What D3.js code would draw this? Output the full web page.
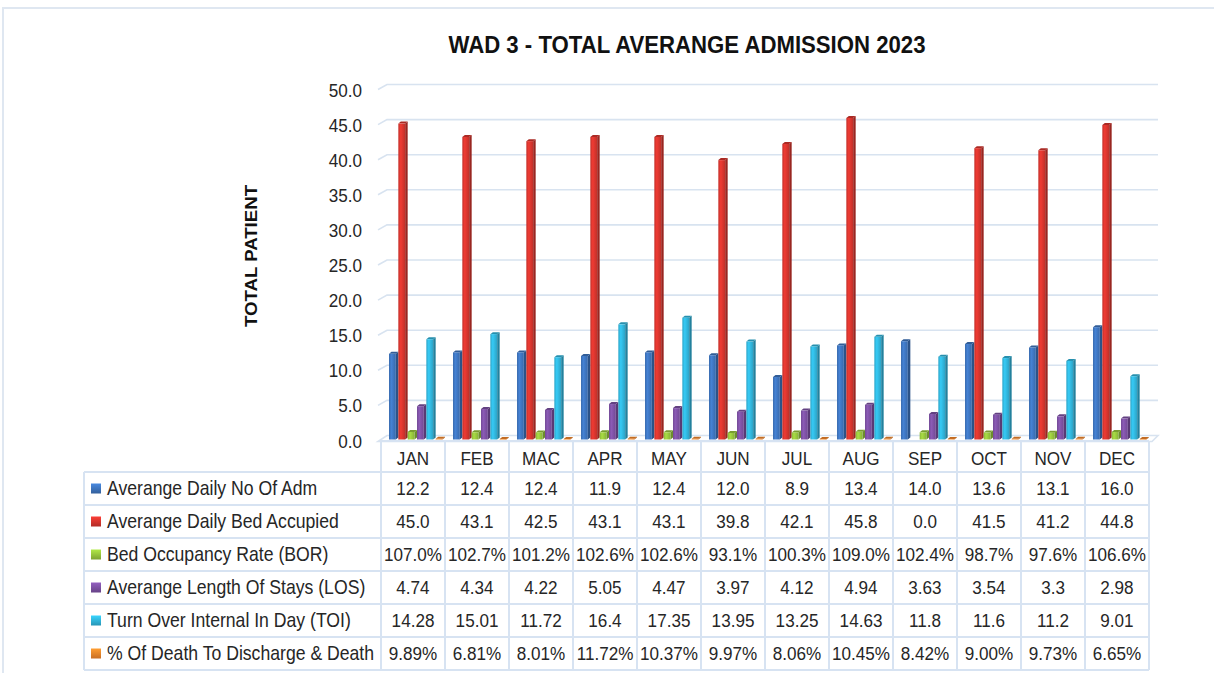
<!DOCTYPE html>
<meta charset="utf-8">
<style>
body { margin: 0; background: #fff; }
svg text { font-family: "Liberation Sans", Arial, Helvetica, sans-serif; fill: #262626; }
.tick-label { font-size: 19px; }
.cell { font-size: 19px; }
.legend-label { font-size: 19.6px; }
.title { font-size: 23.5px; font-weight: bold; fill: #111; }
.ytitle { font-size: 16.5px; font-weight: bold; fill: #111; }
</style>
<svg width="1214" height="673"></svg>
<script src="https://d3js.org/d3.v7.min.js"></script>
<script>

// months on the category axis
var months = ["JAN", "FEB", "MAC", "APR", "MAY", "JUN", "JUL", "AUG", "SEP", "OCT", "NOV", "DEC"];

var seriesNames = [
  "Averange Daily No Of Adm",
  "Averange Daily Bed Accupied",
  "Bed Occupancy Rate (BOR)",
  "Averange Length Of Stays (LOS)",
  "Turn Over Internal In Day (TOI)",
  "% Of Death To Discharge & Death"
];

var dailyAdm   = [12.2, 12.4, 12.4, 11.9, 12.4, 12.0, 8.9, 13.4, 14.0, 13.6, 13.1, 16.0];
var bedOccup   = [45.0, 43.1, 42.5, 43.1, 43.1, 39.8, 42.1, 45.8, 0.0, 41.5, 41.2, 44.8];
var bor        = [1.070, 1.027, 1.012, 1.026, 1.026, 0.931, 1.003, 1.090, 1.024, 0.987, 0.976, 1.066];
var los        = [4.74, 4.34, 4.22, 5.05, 4.47, 3.97, 4.12, 4.94, 3.63, 3.54, 3.3, 2.98];
var toi        = [14.28, 15.01, 11.72, 16.4, 17.35, 13.95, 13.25, 14.63, 11.8, 11.6, 11.2, 9.01];
var deathRate  = [0.0989, 0.0681, 0.0801, 0.1172, 0.1037, 0.0997, 0.0806, 0.1045, 0.0842, 0.0900, 0.0973, 0.0665];

var yTicks = [0, 5, 10, 15, 20, 25, 30, 35, 40, 45, 50];

var seriesColors = ["#3d73bb", "#d3342d", "#95c33c", "#7b50a1", "#30b2d8", "#f0842a"];

var fmt1 = d3.format(".1f"), pct1 = d3.format(".1%"), pct2 = d3.format(".2%");
var series = [
  { values: dailyAdm,  fmt: fmt1 },
  { values: bedOccup,  fmt: fmt1 },
  { values: bor,       fmt: pct1 },
  { values: los,       fmt: String },
  { values: toi,       fmt: String },
  { values: deathRate, fmt: pct2 }
];

var svg = d3.select("svg");
var defs = svg.append("defs");

var plotL = 381, plotR = 1149,
    dx = 6, dy = -4,
    tableL = 84, headTop = 441, rowTop = 472, rowH = 33,
    narrow = 0.9;   // the source font is a condensed sans

// place a text with a horizontal squeeze
function at(xx, yy) { return "translate(" + xx + "," + yy + ") scale(" + narrow + ",1)"; }

var x = d3.scaleBand().domain(months).range([plotL, plotR]);
var xs = d3.scaleBand().domain(d3.range(series.length)).range([8, 64]);
var y = d3.scaleLinear().domain([0, 50]).range([439.5, 88.5]);

// outer frame
svg.append("path")
    .attr("d", "M3,673V8H1214")
    .attr("fill", "none")
    .attr("stroke", "#dfe7f1")
    .attr("stroke-width", 2);

// title
svg.append("text")
    .attr("class", "title")
    .attr("x", 687).attr("y", 53)
    .attr("text-anchor", "middle")
    .attr("textLength", 477)
    .attr("lengthAdjust", "spacingAndGlyphs")
    .text("WAD 3 - TOTAL AVERANGE ADMISSION 2023");

svg.append("text")
    .attr("class", "ytitle")
    .attr("transform", "translate(257,256) rotate(-90)")
    .attr("text-anchor", "middle")
    .attr("textLength", 142)
    .attr("lengthAdjust", "spacingAndGlyphs")
    .text("TOTAL PATIENT");

// gridlines on side wall + back wall
var grid = svg.append("g").attr("fill", "none").attr("stroke", "#d8e3f0").attr("stroke-width", 1.6);
grid.selectAll("path")
  .data(yTicks.filter(function(d) { return d > 0; }))
  .enter().append("path")
    .attr("d", function(d) {
      return "M" + (plotL - 3) + "," + (y(d) + 1) + "L" + (plotL + dx) + "," + (y(d) + dy) +
             "H" + (plotR + dx + 3);
    });

// floor
svg.append("path")
    .attr("d", "M" + (plotL - 3) + "," + (y(0) + 2) + "L" + (plotL + dx) + "," + (y(0) + dy) +
               "H" + (plotR + dx + 3) + "L" + (plotR + 3) + "," + (y(0) + 2) + "Z")
    .attr("fill", "#fff")
    .attr("stroke", "#d8e3f0")
    .attr("stroke-width", 1.6);

svg.append("g").selectAll("text")
  .data(yTicks)
  .enter().append("text")
    .attr("class", "tick-label")
    .attr("transform", function(d) { return at(362, y(d) + 3); })
    .attr("text-anchor", "end")
    .attr("dominant-baseline", "middle")
    .text(function(d) { return d.toFixed(1); });

// gradients
seriesColors.forEach(function(c, i) {
  var g = defs.append("linearGradient").attr("id", "front" + i)
      .attr("x1", 0).attr("x2", 1).attr("y1", 0).attr("y2", 0);
  g.append("stop").attr("offset", 0).attr("stop-color", d3.color(c).darker(0.2));
  g.append("stop").attr("offset", 0.35).attr("stop-color", d3.color(c).brighter(0.35));
  g.append("stop").attr("offset", 1).attr("stop-color", d3.color(c).darker(0.25));
  var s = defs.append("linearGradient").attr("id", "sw" + i)
      .attr("x1", 0).attr("x2", 0).attr("y1", 0).attr("y2", 1);
  s.append("stop").attr("offset", 0).attr("stop-color", d3.color(c).brighter(0.5));
  s.append("stop").attr("offset", 1).attr("stop-color", d3.color(c).darker(0.5));
});

// bars
var side = 2.5, rise = 2, barW = xs.bandwidth() - side;
var cells = [];
months.forEach(function(m, mi) {
  series.forEach(function(s, si) {
    cells.push({ m: m, si: si, v: s.values[mi] });
  });
});
cells = cells.filter(function(d) { return d.v > 0; });

var bar = svg.append("g").selectAll("g")
  .data(cells)
  .enter().append("g")
    .attr("transform", function(d) { return "translate(" + (x(d.m) + xs(d.si)) + ",0)"; });

bar.append("path")  // right side face
    .attr("d", function(d) {
      var t = y(d.v), b = y(0);
      return "M" + barW + "," + t + "l" + side + "," + (-rise) + "V" + (b - rise) + "L" + barW + "," + b + "Z";
    })
    .attr("fill", function(d) { return d3.color(seriesColors[d.si]).darker(0.9); });

bar.append("path")  // top face
    .attr("d", function(d) {
      var t = y(d.v);
      return "M0," + t + "l" + side + "," + (-rise) + "h" + barW + "l" + (-side) + "," + rise + "Z";
    })
    .attr("fill", function(d) { return d3.color(seriesColors[d.si]).darker(0.6); });

bar.append("rect")
    .attr("x", 0)
    .attr("y", function(d) { return y(d.v); })
    .attr("width", barW)
    .attr("height", function(d) { return Math.max(0.6, y(0) - y(d.v)); })
    .attr("fill", function(d) { return "url(#front" + d.si + ")"; });

// data table
var tbl = svg.append("g");
var lines = tbl.append("g").attr("stroke", "#d7e3f2").attr("stroke-width", 2).attr("fill", "none");
var tableB = rowTop + rowH * series.length;

lines.append("path").attr("d", "M" + plotL + "," + headTop + "H" + plotR);
d3.range(series.length + 1).forEach(function(i) {
  lines.append("path").attr("d", "M" + tableL + "," + (rowTop + i * rowH) + "H" + plotR);
});
lines.append("path").attr("d", "M" + tableL + "," + rowTop + "V" + tableB);
months.concat([null]).forEach(function(m, i) {
  var xx = plotL + i * x.bandwidth();
  lines.append("path").attr("d", "M" + xx + "," + headTop + "V" + tableB);
});

tbl.selectAll("text.month")
  .data(months)
  .enter().append("text")
    .attr("class", "cell month")
    .attr("transform", function(d) { return at(x(d) + x.bandwidth() / 2, (headTop + rowTop) / 2 + 3); })
    .attr("text-anchor", "middle")
    .attr("dominant-baseline", "middle")
    .text(function(d) { return d; });

series.forEach(function(s, si) {
  var cy = rowTop + si * rowH + rowH / 2 + 1;
  tbl.append("rect")
      .attr("x", 91).attr("y", cy - 6)
      .attr("width", 10).attr("height", 10)
      .attr("fill", "url(#sw" + si + ")");
  tbl.append("text")
      .attr("class", "legend-label")
      .attr("transform", at(107, cy))
      .attr("dominant-baseline", "middle")
      .text(seriesNames[si]);
  tbl.selectAll(null)
    .data(s.values)
    .enter().append("text")
      .attr("class", "cell")
      .attr("transform", function(d, i) { return at(x(months[i]) + x.bandwidth() / 2, cy); })
      .attr("text-anchor", "middle")
      .attr("dominant-baseline", "middle")
      .text(function(d) { return s.fmt(d); });
});

</script>
